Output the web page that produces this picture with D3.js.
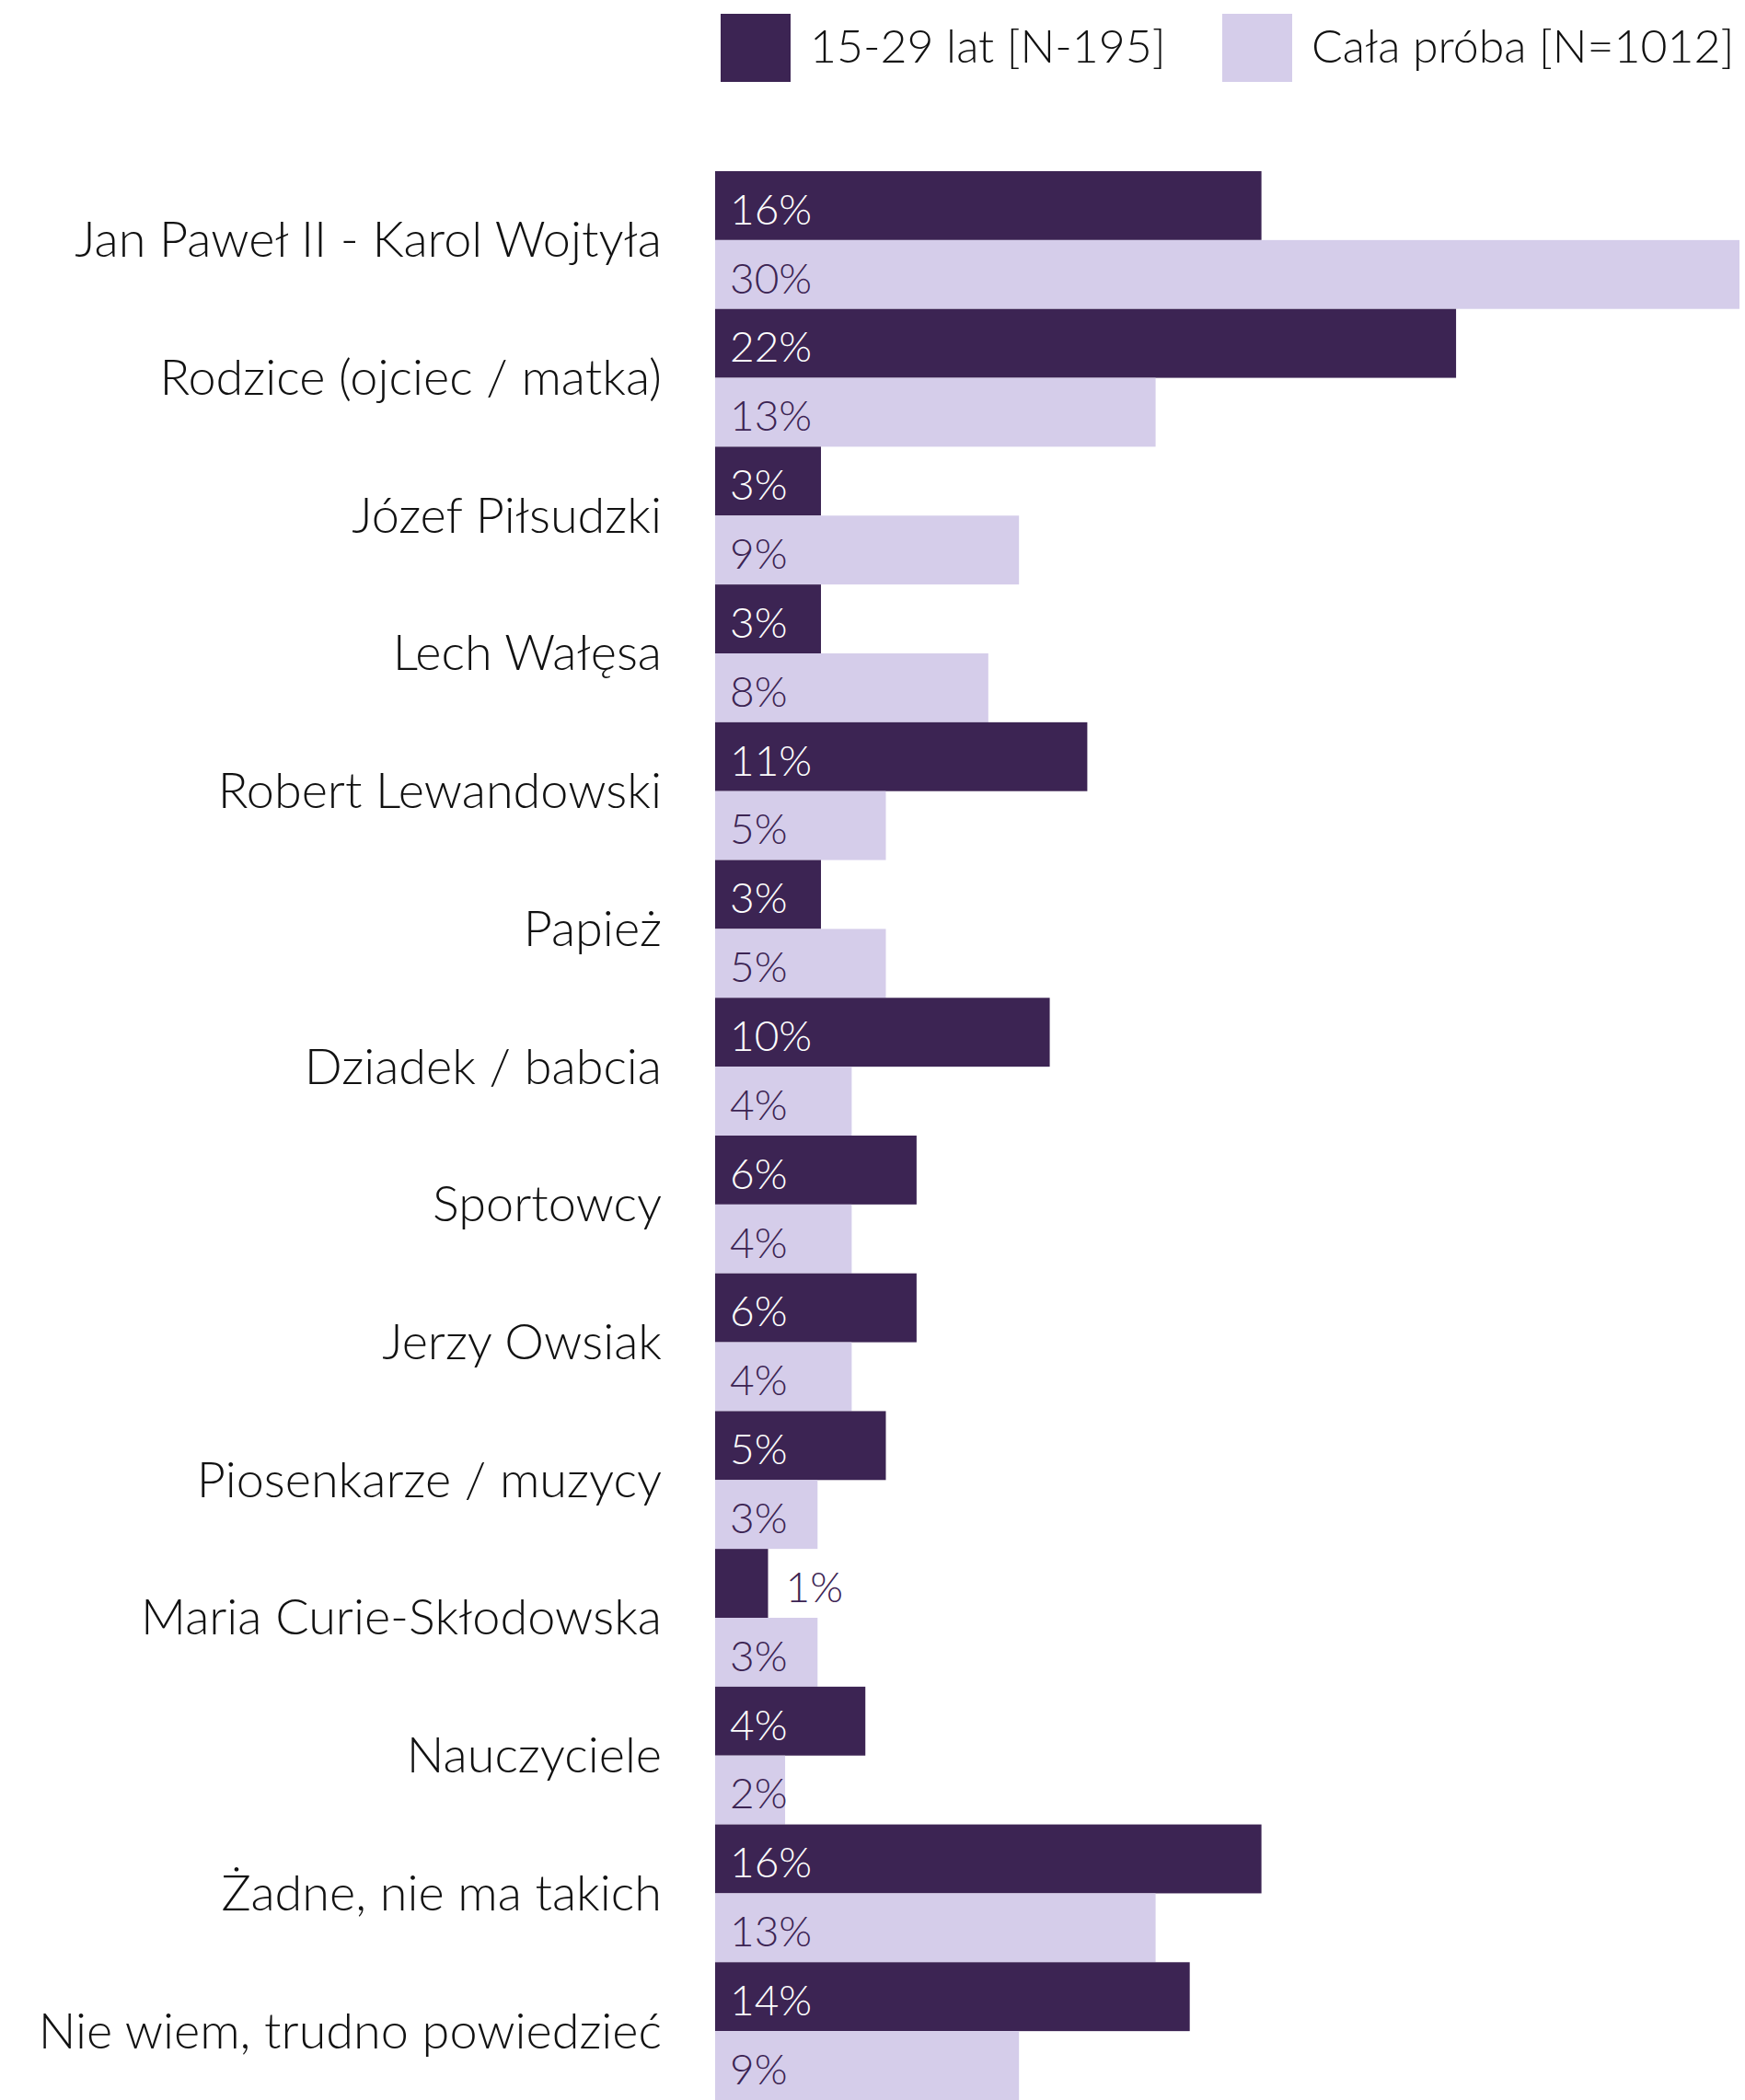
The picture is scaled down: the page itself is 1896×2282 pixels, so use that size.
<!DOCTYPE html>
<html lang="pl">
<head>
<meta charset="UTF-8">
<title>Autorytety</title>
<script src="https://d3js.org/d3.v7.min.js"></script>
<style>
  html, body { margin: 0; padding: 0; background: #fff; }
  body { font-family: "Lato", "Open Sans", sans-serif; font-weight: 300; }
  svg text { font-family: "Lato", "Open Sans", sans-serif; font-weight: 300; }
</style>
</head>
<body>
<div id="chart"></div>
<script>
// categories, top to bottom
const categories = [
  "Jan Paweł II - Karol Wojtyła",
  "Rodzice (ojciec / matka)",
  "Józef Piłsudzki",
  "Lech Wałęsa",
  "Robert Lewandowski",
  "Papież",
  "Dziadek / babcia",
  "Sportowcy",
  "Jerzy Owsiak",
  "Piosenkarze / muzycy",
  "Maria Curie-Skłodowska",
  "Nauczyciele",
  "Żadne, nie ma takich",
  "Nie wiem, trudno powiedzieć"
];

const seriesNames = ["15-29 lat [N-195]", "Cała próba [N=1012]"];

// bar lengths (%)
const young = [16, 21.7, 3.1, 3.1, 10.9, 3.1, 9.8, 5.9, 5.9, 5, 1.55, 4.4, 16, 13.9];
const all   = [30, 12.9, 8.9, 8, 5, 5, 4, 4, 4, 3, 3, 2.05, 12.9, 8.9];

// printed labels
const youngLabels = ["16%", "22%", "3%", "3%", "11%", "3%", "10%", "6%", "6%", "5%", "1%", "4%", "16%", "14%"];
const allLabels   = ["30%", "13%", "9%", "8%", "5%", "5%", "4%", "4%", "4%", "3%", "3%", "2%", "13%", "9%"];

const colors = ["#3c2453", "#d5cdea"];

const W = 1896, H = 2282;
const margin = {left: 777, right: 1890, top: 186, bottom: 2282};

const svg = d3.select("#chart").append("svg")
  .attr("width", W)
  .attr("height", H);

const x = d3.scaleLinear().domain([0, 30]).range([margin.left, margin.right]);

const y = d3.scaleBand()
  .domain(categories)
  .range([margin.top, margin.bottom])
  .padding(0);

const ySub = d3.scaleBand()
  .domain(seriesNames)
  .range([0, y.bandwidth()])
  .padding(0);

const rows = categories.map((c, i) => ({
  cat: c,
  bars: [
    {s: seriesNames[0], v: young[i], label: youngLabels[i]},
    {s: seriesNames[1], v: all[i], label: allLabels[i]}
  ]
}));

const g = svg.selectAll("g.row")
  .data(rows)
  .join("g")
  .attr("class", "row")
  .attr("transform", d => `translate(0,${y(d.cat)})`);

g.selectAll("rect")
  .data(d => d.bars)
  .join("rect")
  .attr("x", x(0))
  .attr("y", d => ySub(d.s))
  .attr("width", d => x(d.v) - x(0))
  .attr("height", ySub.bandwidth())
  .attr("fill", (d, i) => colors[i]);

// value labels: inside the bar, or just outside if the bar is too short
g.selectAll("text.val")
  .data(d => d.bars)
  .join("text")
  .attr("class", "val")
  .attr("x", d => (x(d.v) - x(0) < 70 ? x(d.v) + 19 : x(0) + 16))
  .attr("y", d => ySub(d.s) + ySub.bandwidth() / 2)
  .attr("dy", "0.44em")
  .style("font-size", "46px")
  .attr("fill", (d, i) => (i === 0 && x(d.v) - x(0) >= 70 ? "#ffffff" : colors[0]))
  .text(d => d.label);

// category labels
svg.append("g")
  .selectAll("text")
  .data(categories)
  .join("text")
  .attr("x", 719)
  .attr("y", d => y(d) + y.bandwidth() / 2)
  .attr("dy", "0.34em")
  .attr("text-anchor", "end")
  .style("font-size", "54px")
  .attr("fill", "#111")
  .text(d => d);

// legend
const legendX = [783, 1328];
const legend = svg.append("g")
  .selectAll("g")
  .data(seriesNames)
  .join("g")
  .attr("transform", (d, i) => `translate(${legendX[i]},15)`);

legend.append("rect")
  .attr("width", 76)
  .attr("height", 74)
  .attr("fill", (d, i) => colors[i]);

legend.append("text")
  .attr("x", 97)
  .attr("y", 35)
  .attr("dy", "0.36em")
  .style("font-size", "50px")
  .attr("fill", "#111")
  .text(d => d);
</script>
</body>
</html>
